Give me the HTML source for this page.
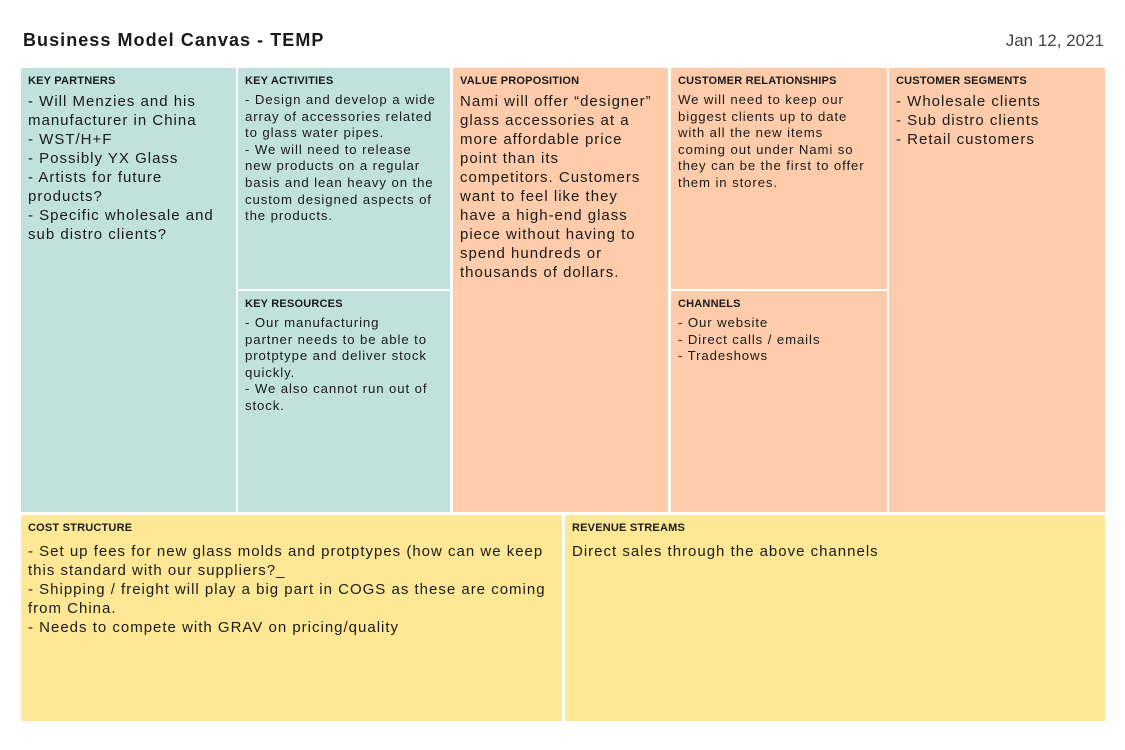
<!DOCTYPE html><html><head><style>
body{margin:0;width:1125px;height:750px;background:#fff;font-family:"Liberation Sans",sans-serif;position:relative;overflow:hidden;color:#1a1a1a}
.b{position:absolute;box-sizing:border-box;padding:6px 7px;white-space:nowrap;overflow:hidden}
.t{font-weight:bold;font-size:11px;margin-top:1px;margin-bottom:5px;letter-spacing:0.2px}
.L{font-size:15px;line-height:19px;letter-spacing:1.0px}
.S{font-size:13.2px;line-height:16.6px;letter-spacing:0.9px}
.g{background:#c1e1dc}.p{background:#fecbab}.y{background:#fee896}
</style></head><body>
<div style="position:absolute;left:23px;top:30px;font-weight:bold;font-size:18px;letter-spacing:1.05px">Business Model Canvas - TEMP</div>
<div style="position:absolute;right:21px;top:31px;font-size:17px;color:#444">Jan 12, 2021</div>

<div class="b g" style="left:21px;top:68px;width:215px;height:444px"><div class="t">KEY PARTNERS</div><div class="L">- Will Menzies and his<br>manufacturer in China<br>- WST/H+F<br>- Possibly YX Glass<br>- Artists for future<br>products?<br>- Specific wholesale and<br>sub distro clients?</div></div>

<div class="b g" style="left:238px;top:68px;width:212px;height:221px"><div class="t">KEY ACTIVITIES</div><div class="S">- Design and develop a wide<br>array of accessories related<br>to glass water pipes.<br>- We will need to release<br>new products on a regular<br>basis and lean heavy on the<br>custom designed aspects of<br>the products.</div></div>

<div class="b g" style="left:238px;top:291px;width:212px;height:221px"><div class="t">KEY RESOURCES</div><div class="S">- Our manufacturing<br>partner needs to be able to<br>protptype and deliver stock<br>quickly.<br>- We also cannot run out of<br>stock.</div></div>

<div class="b p" style="left:453px;top:68px;width:215px;height:444px"><div class="t">VALUE PROPOSITION</div><div class="L">Nami will offer “designer”<br>glass accessories at a<br>more affordable price<br>point than its<br>competitors. Customers<br>want to feel like they<br>have a high-end glass<br>piece without having to<br>spend hundreds or<br>thousands of dollars.</div></div>

<div class="b p" style="left:671px;top:68px;width:216px;height:221px"><div class="t">CUSTOMER RELATIONSHIPS</div><div class="S">We will need to keep our<br>biggest clients up to date<br>with all the new items<br>coming out under Nami so<br>they can be the first to offer<br>them in stores.</div></div>

<div class="b p" style="left:671px;top:291px;width:216px;height:221px"><div class="t">CHANNELS</div><div class="S">- Our website<br>- Direct calls / emails<br>- Tradeshows</div></div>

<div class="b p" style="left:889px;top:68px;width:216px;height:444px"><div class="t">CUSTOMER SEGMENTS</div><div class="L">- Wholesale clients<br>- Sub distro clients<br>- Retail customers</div></div>

<div class="b y" style="left:21px;top:515px;width:541px;height:206px"><div class="t">COST STRUCTURE</div><div class="L" style="margin-top:8px">- Set up fees for new glass molds and protptypes (how can we keep<br>this standard with our suppliers?_<br>- Shipping / freight will play a big part in COGS as these are coming<br>from China.<br>- Needs to compete with GRAV on pricing/quality</div></div>

<div class="b y" style="left:565px;top:515px;width:540px;height:206px"><div class="t">REVENUE STREAMS</div><div class="L" style="margin-top:8px">Direct sales through the above channels</div></div>
</body></html>
